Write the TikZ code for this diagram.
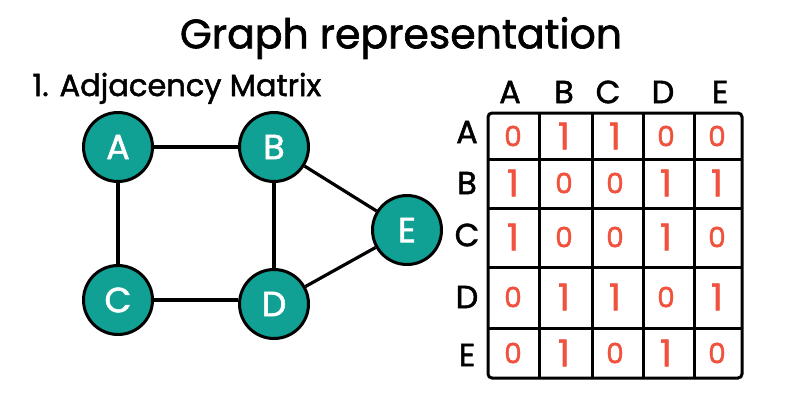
\documentclass[tikz,border=0pt]{standalone}
\usepackage{fontspec}
\setmainfont{Poppins}[FakeBold=1.6]
\usetikzlibrary{calc}
\definecolor{vertexfill}{RGB}{16,160,148}
\definecolor{bitred}{RGB}{240,82,62}
\tikzset{
vertex/.style={circle,draw=black,line width=3pt,fill=vertexfill,minimum size=69pt,inner sep=0pt,text=white,font=\fontsize{35}{35}\selectfont},
edge/.style={line width=3.2pt,draw=black},
grid/.style={line width=3pt,draw=black},
title/.style={font=\fontsize{41}{41}\selectfont},
subtitle/.style={font=\fontsize{30.5}{30.5}\selectfont},
head/.style={font=\fontsize{32}{32}\selectfont},
bit0/.style={text=bitred,font=\fontsize{28}{28}\selectfont},
bit1/.style={text=bitred,font=\fontsize{37}{37}\selectfont},
}

\begin{document}
\begin{tikzpicture}[x=1pt,y=-1pt]
\useasboundingbox (0,0) rectangle (786,405);
\node[title] (title) at (401,38) {Graph representation};
\node[subtitle,anchor=base west] (sub) at (29,96) {1. Adjacency Matrix};
% the graph
\node[vertex] (A) at (118,147) {A};
\node[vertex] (B) at (274,147) {B};
\node[vertex] (C) at (118,300) {C};
\node[vertex] (D) at (274,304) {D};
\node[vertex] (E) at (407,230) {E};
\draw[edge] (A) -- (B);
\draw[edge] (A) -- (C);
\draw[edge] (B) -- (D);
\draw[edge] (C) -- (C -| D.west);
\draw[edge] (B) -- (E);
\draw[edge] (D) -- (E);
% the matrix
\draw[grid,rounded corners=4pt] (488,113) rectangle (742,378);
\foreach \x in {539,592,643,694}
  \draw[grid] (\x,113) -- (\x,378);
\foreach \y in {159,208,267,328}
  \draw[grid] (488,\y) -- (742,\y);
\foreach \n/\x in {A/510,B/564,C/608,D/663,E/720}
  \node[head] (col-\n) at (\x,92) {\n};
\foreach \n/\y in {A/132,B/183,C/235,D/297,E/355}
  \node[head] (row-\n) at (467,\y) {\n};
\foreach \r/\y/\bits in {A/136/{0,1,1,0,0},B/183/{1,0,0,1,1},C/237/{1,0,0,1,0},D/297/{0,1,1,0,1},E/353/{0,1,0,1,0}}
  \foreach \b [count=\c] in \bits
    \node[bit\b] (m-\r-\c) at ({462+51*\c},\y) {\b};
\end{tikzpicture}
\end{document}
